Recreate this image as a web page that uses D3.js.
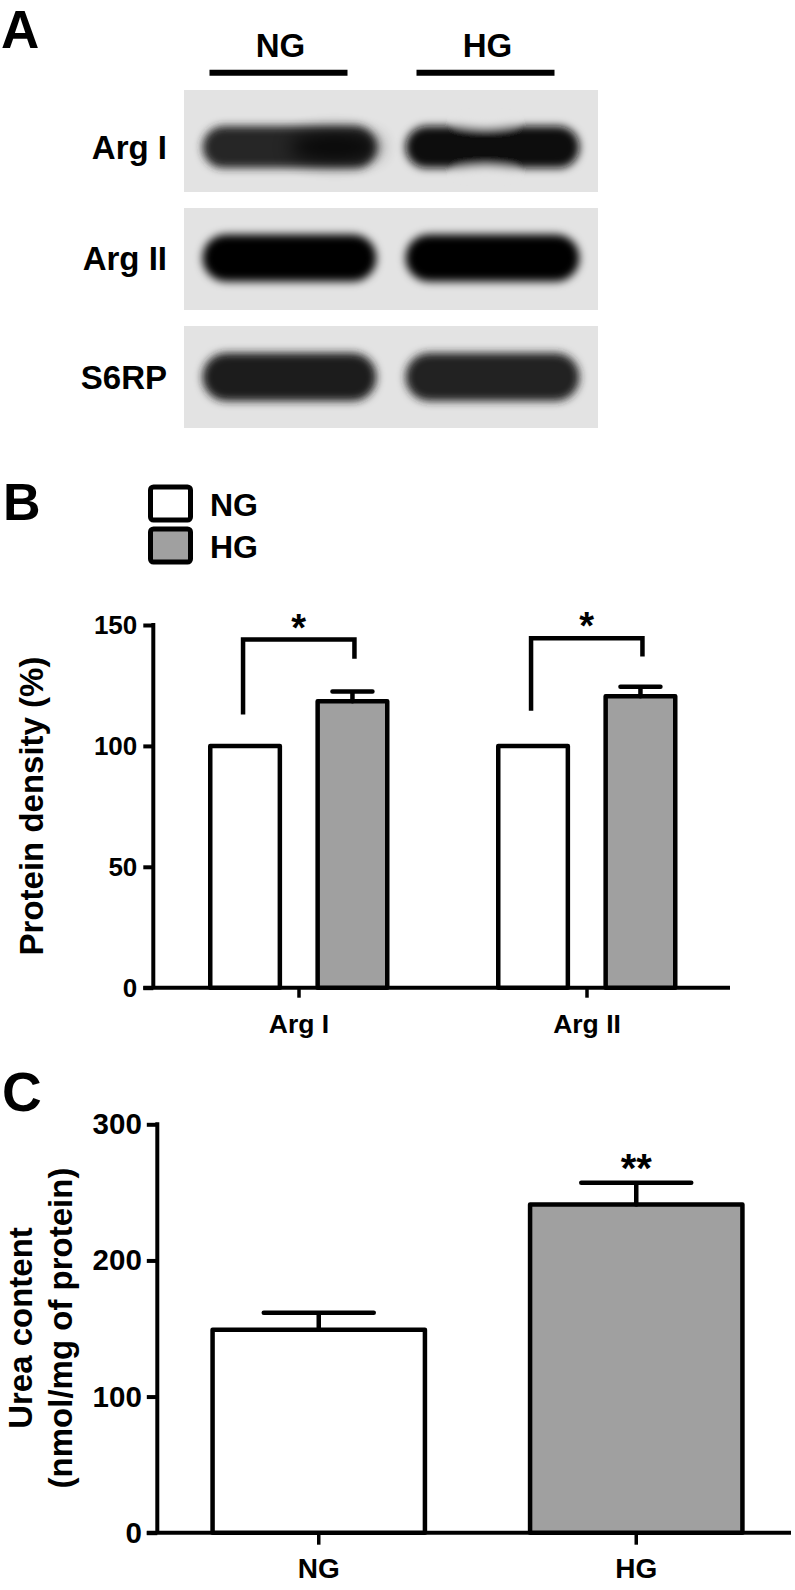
<!DOCTYPE html>
<html>
<head>
<meta charset="utf-8">
<script src="https://cdn.jsdelivr.net/npm/d3@7"></script>
<style>
  html, body { margin: 0; padding: 0; background: #fff; }
  svg { display: block; }
  text { font-family: "Liberation Sans", Arial, Helvetica, sans-serif; font-weight: bold; fill: #000; }
</style>
</head>
<body>
<div id="fig"></div>
<script>
// ---------- data ----------
// A: western blot
const blotRows = ["Arg I", "Arg II", "S6RP"];
const blotLanes = ["NG", "HG"];
const bandDensityNG = [0.84, 1.00, 0.88];
const bandDensityHG = [0.98, 1.00, 0.87];

// B: protein density (%)
const proteins = ["Arg I", "Arg II"];
const groups = ["NG", "HG"];
const densityNG = [100, 100];
const densityHG = [118.5, 120.5];
const densityNGErr = [0, 0];
const densityHGErr = [4, 4];
const densityTicks = [0, 50, 100, 150];
const sigLeftEnd = [113, 114.5];
const sigRightEnd = [136, 137];
const sigTop = [144, 144.5];
const sigMarkB = ["*", "*"];

// C: urea content
const ureaGroups = ["NG", "HG"];
const ureaMean = [149, 241];
const ureaErr = [12.5, 16];
const ureaTicks = [0, 100, 200, 300];
const sigMarkC = ["", "**"];

// ---------- setup ----------
const W = 795, H = 1590;
const svg = d3.select('#fig').append('svg')
    .attr('width', W)
    .attr('height', H);

const defs = svg.append('defs');
const blur = defs.append('filter')
    .attr('id', 'blur')
    .attr('filterUnits', 'userSpaceOnUse')
    .attr('x', 170).attr('y', 80)
    .attr('width', 440).attr('height', 360);
blur.append('feGaussianBlur').attr('stdDeviation', 4);

const softBlur = defs.append('filter')
    .attr('id', 'soft')
    .attr('filterUnits', 'userSpaceOnUse')
    .attr('x', 170).attr('y', 80)
    .attr('width', 440).attr('height', 360);
softBlur.append('feGaussianBlur').attr('stdDeviation', 9);

const grey = '#a0a0a0';
const barStroke = 4.5;
const axisStroke = 4;
const blotBg = '#e3e3e3';

// panel letters
const letter = (t, x, y, size) => svg.append('text')
    .attr('x', x).attr('y', y)
    .attr('font-size', size)
    .text(t);

/////////////////////////////////////////////////////
//////////////////// panel A ////////////////////////
/////////////////////////////////////////////////////
letter('A', 1, 48, 53);

// lane headers with bars under them
const headX = d3.scaleBand().domain(blotLanes).range([175, 589]);
const head = svg.append('g');
head.selectAll('text')
  .data(blotLanes)
  .enter().append('text')
    .attr('x', d => headX(d) + headX.bandwidth() / 2 + 2)
    .attr('y', 57)
    .attr('text-anchor', 'middle')
    .attr('font-size', 33)
    .text(d => d);
head.selectAll('line')
  .data(blotLanes)
  .enter().append('line')
    .attr('x1', d => headX(d) + headX.bandwidth() / 2 - 69)
    .attr('x2', d => headX(d) + headX.bandwidth() / 2 + 69)
    .attr('y1', 72.7).attr('y2', 72.7)
    .attr('stroke', '#000')
    .attr('stroke-width', 6);

// blot strips
const rowY = d3.scaleBand().domain(blotRows).range([90, 428]).paddingInner(0.136);
const laneX = d3.scaleBand().domain(blotLanes).range([184, 598]);
const bandColor = d3.interpolateRgb('#d8d8d8', '#060606');
const bandH = [42, 47, 48];
const bandCentre = [0.56, 0.49, 0.50];

blotRows.forEach((row, r) => {
    const g = svg.append('g');
    const y0 = rowY(row);
    const cy = y0 + rowY.bandwidth() * bandCentre[r];

    g.append('rect')
        .attr('x', 184).attr('y', y0)
        .attr('width', 414).attr('height', rowY.bandwidth())
        .attr('fill', blotBg);

    // row label
    svg.append('text')
        .attr('x', 167).attr('y', cy)
        .attr('dy', '0.36em')
        .attr('text-anchor', 'end')
        .attr('font-size', 33)
        .text(row);

    const dens = [bandDensityNG[r], bandDensityHG[r]];
    const bands = g.append('g').attr('filter', 'url(#blur)');
    blotLanes.forEach((lane, l) => {
        const w = laneX.bandwidth() * 0.84;
        const x = laneX(lane) + (laneX.bandwidth() - w) / 2 + (l === 0 ? 2 : -2);
        const h = bandH[r];

        bands.append('rect')
            .attr('x', x).attr('y', cy - h / 2)
            .attr('width', w).attr('height', h)
            .attr('rx', h / 2)
            .attr('fill', bandColor(dens[l]));

        // Arg I / HG band narrows a little in the middle
        if (r === 0 && l === 1) {
            [-1, 1].forEach(s => {
                bands.append('ellipse')
                    .attr('cx', x + w * 0.46)
                    .attr('cy', cy + s * (h / 2 + 3))
                    .attr('rx', 30).attr('ry', 5)
                    .attr('fill', blotBg);
            });
        }
    });

    // Arg I / NG band gets darker towards its right end
    if (r === 0) {
        const w = laneX.bandwidth() * 0.84;
        const x = laneX('NG') + (laneX.bandwidth() - w) / 2 + 2;
        g.append('ellipse')
            .attr('cx', x + w * 0.76).attr('cy', cy)
            .attr('rx', w * 0.26).attr('ry', bandH[r] / 2 - 6)
            .attr('fill', bandColor(1))
            .attr('opacity', 0.75)
            .attr('filter', 'url(#soft)');
    }
});

/////////////////////////////////////////////////////
//////////////////// panel B ////////////////////////
/////////////////////////////////////////////////////
letter('B', 3, 520, 52);

// legend
const legY = d3.scalePoint().domain(groups).range([504, 546]);
const legend = svg.append('g');
legend.selectAll('rect')
  .data(groups)
  .enter().append('rect')
    .attr('x', 150.5)
    .attr('y', d => legY(d) - 17)
    .attr('width', 40).attr('height', 33)
    .attr('rx', 3)
    .attr('fill', (d, i) => i === 0 ? '#fff' : grey)
    .attr('stroke', '#000')
    .attr('stroke-width', 5);
legend.selectAll('text')
  .data(groups)
  .enter().append('text')
    .attr('x', 210)
    .attr('y', d => legY(d) + 11.5)
    .attr('font-size', 32)
    .text(d => d);

const yB = d3.scaleLinear().domain([0, 150]).range([987.7, 625]);
const xB = d3.scaleBand().domain(proteins).range([155, 731]);
const xSub = d3.scaleBand().domain(groups).range([53, 234.5]).paddingInner(0.31);
const axisXB = 153.3;

const gB = svg.append('g');

// y axis
gB.append('g')
    .attr('transform', `translate(${axisXB},0)`)
    .call(d3.axisLeft(yB).tickValues(densityTicks).tickSize(10).tickPadding(6))
    .call(g => g.select('.domain').remove())
    .call(g => g.selectAll('line').attr('stroke', '#000').attr('stroke-width', axisStroke))
    .call(g => g.selectAll('text').attr('font-size', 26).attr('fill', '#000'))
    .attr('font-family', null);
gB.append('line')
    .attr('x1', axisXB).attr('x2', axisXB)
    .attr('y1', yB(0)).attr('y2', yB(150) - 2)
    .attr('stroke', '#000').attr('stroke-width', axisStroke);

// x axis
gB.append('g')
    .attr('transform', `translate(0,${yB(0)})`)
    .call(d3.axisBottom(xB).tickSize(10).tickPadding(16))
    .call(g => g.select('.domain').remove())
    .call(g => g.selectAll('line').attr('stroke', '#000').attr('stroke-width', 3.5))
    .call(g => g.selectAll('text').attr('font-size', 26.5).attr('fill', '#000'))
    .attr('font-family', null);
gB.append('line')
    .attr('x1', axisXB - 10).attr('x2', 730)
    .attr('y1', yB(0)).attr('y2', yB(0))
    .attr('stroke', '#000').attr('stroke-width', axisStroke);

// bars
const barsB = [];
proteins.forEach((p, i) => {
    barsB.push({ p, g: 'NG', v: densityNG[i], e: densityNGErr[i] });
    barsB.push({ p, g: 'HG', v: densityHG[i], e: densityHGErr[i] });
});
const centreB = d => xB(d.p) + xSub(d.g) + xSub.bandwidth() / 2;

gB.selectAll('rect.bar')
  .data(barsB)
  .enter().append('rect')
    .attr('class', 'bar')
    .attr('x', d => xB(d.p) + xSub(d.g) + barStroke / 2)
    .attr('y', d => yB(d.v))
    .attr('width', xSub.bandwidth() - barStroke)
    .attr('height', d => yB(0) - yB(d.v))
    .attr('fill', d => d.g === 'NG' ? '#fff' : grey)
    .attr('stroke', '#000')
    .attr('stroke-width', barStroke)
    .attr('stroke-linejoin', 'round');

// error bars
const errB = barsB.filter(d => d.e > 0);
gB.selectAll('path.err')
  .data(errB)
  .enter().append('path')
    .attr('class', 'err')
    .attr('d', d => {
        const cx = centreB(d), top = yB(d.v + d.e);
        return `M${cx},${yB(d.v)}V${top}M${cx - 20},${top}H${cx + 20}`;
    })
    .attr('fill', 'none')
    .attr('stroke', '#000')
    .attr('stroke-width', barStroke)
    .attr('stroke-linecap', 'round');

// significance brackets
gB.selectAll('path.sig')
  .data(proteins)
  .enter().append('path')
    .attr('class', 'sig')
    .attr('d', (p, i) => {
        const xl = centreB({ p, g: 'NG' }) - 2;
        const xr = centreB({ p, g: 'HG' }) + 2;
        return `M${xl},${yB(sigLeftEnd[i])}V${yB(sigTop[i])}H${xr}V${yB(sigRightEnd[i])}`;
    })
    .attr('fill', 'none')
    .attr('stroke', '#000')
    .attr('stroke-width', barStroke);
gB.selectAll('text.star')
  .data(proteins)
  .enter().append('text')
    .attr('class', 'star')
    .attr('x', p => (centreB({ p, g: 'NG' }) + centreB({ p, g: 'HG' })) / 2)
    .attr('y', (p, i) => yB(sigTop[i]) + 1)
    .attr('text-anchor', 'middle')
    .attr('font-size', 38)
    .text((p, i) => sigMarkB[i]);

// y title
svg.append('text')
    .attr('transform', 'translate(43,806) rotate(-90)')
    .attr('text-anchor', 'middle')
    .attr('font-size', 33)
    .text('Protein density (%)');

/////////////////////////////////////////////////////
//////////////////// panel C ////////////////////////
/////////////////////////////////////////////////////
letter('C', 2, 1111, 55);

const yC = d3.scaleLinear().domain([0, 300]).range([1532.7, 1124.3]);
const xC = d3.scaleBand().domain(ureaGroups).range([160, 795]);
const axisXC = 157.3;
const barWC = xC.bandwidth() * 0.683;

const gC = svg.append('g');

gC.append('g')
    .attr('transform', `translate(${axisXC},0)`)
    .call(d3.axisLeft(yC).tickValues(ureaTicks).tickSize(10.5).tickPadding(5))
    .call(g => g.select('.domain').remove())
    .call(g => g.selectAll('line').attr('stroke', '#000').attr('stroke-width', axisStroke))
    .call(g => g.selectAll('text').attr('font-size', 29.5).attr('fill', '#000'))
    .attr('font-family', null);
gC.append('line')
    .attr('x1', axisXC).attr('x2', axisXC)
    .attr('y1', yC(0)).attr('y2', yC(300) - 2)
    .attr('stroke', '#000').attr('stroke-width', axisStroke);

gC.append('g')
    .attr('transform', `translate(0,${yC(0)})`)
    .call(d3.axisBottom(xC).tickSize(12).tickPadding(13))
    .call(g => g.select('.domain').remove())
    .call(g => g.selectAll('line').attr('stroke', '#000').attr('stroke-width', 3.5))
    .call(g => g.selectAll('text').attr('font-size', 28).attr('fill', '#000'))
    .attr('font-family', null);
gC.append('line')
    .attr('x1', axisXC - 10.5).attr('x2', 791)
    .attr('y1', yC(0)).attr('y2', yC(0))
    .attr('stroke', '#000').attr('stroke-width', axisStroke);

const centreC = g => xC(g) + xC.bandwidth() / 2;

gC.selectAll('rect.bar')
  .data(ureaGroups)
  .enter().append('rect')
    .attr('class', 'bar')
    .attr('x', g => centreC(g) - barWC / 2 + barStroke / 2)
    .attr('y', (g, i) => yC(ureaMean[i]))
    .attr('width', barWC - barStroke)
    .attr('height', (g, i) => yC(0) - yC(ureaMean[i]))
    .attr('fill', (g, i) => i === 0 ? '#fff' : grey)
    .attr('stroke', '#000')
    .attr('stroke-width', barStroke)
    .attr('stroke-linejoin', 'round');

gC.selectAll('path.err')
  .data(ureaGroups)
  .enter().append('path')
    .attr('class', 'err')
    .attr('d', (g, i) => {
        const cx = centreC(g), top = yC(ureaMean[i] + ureaErr[i]);
        return `M${cx},${yC(ureaMean[i])}V${top}M${cx - 55},${top}H${cx + 55}`;
    })
    .attr('fill', 'none')
    .attr('stroke', '#000')
    .attr('stroke-width', barStroke)
    .attr('stroke-linecap', 'round');

gC.selectAll('text.star')
  .data(ureaGroups)
  .enter().append('text')
    .attr('class', 'star')
    .attr('x', g => centreC(g))
    .attr('y', (g, i) => yC(ureaMean[i] + ureaErr[i]) - 1)
    .attr('text-anchor', 'middle')
    .attr('font-size', 40)
    .text((g, i) => sigMarkC[i]);

// two-line y title
const titleC = svg.append('g').attr('transform', 'translate(0,1328)');
[['Urea content', 32], ['(nmol/mg of protein)', 72]].forEach(([t, x]) => {
    titleC.append('text')
        .attr('transform', `translate(${x},0) rotate(-90)`)
        .attr('text-anchor', 'middle')
        .attr('font-size', 33)
        .text(t);
});
</script>
</body>
</html>
